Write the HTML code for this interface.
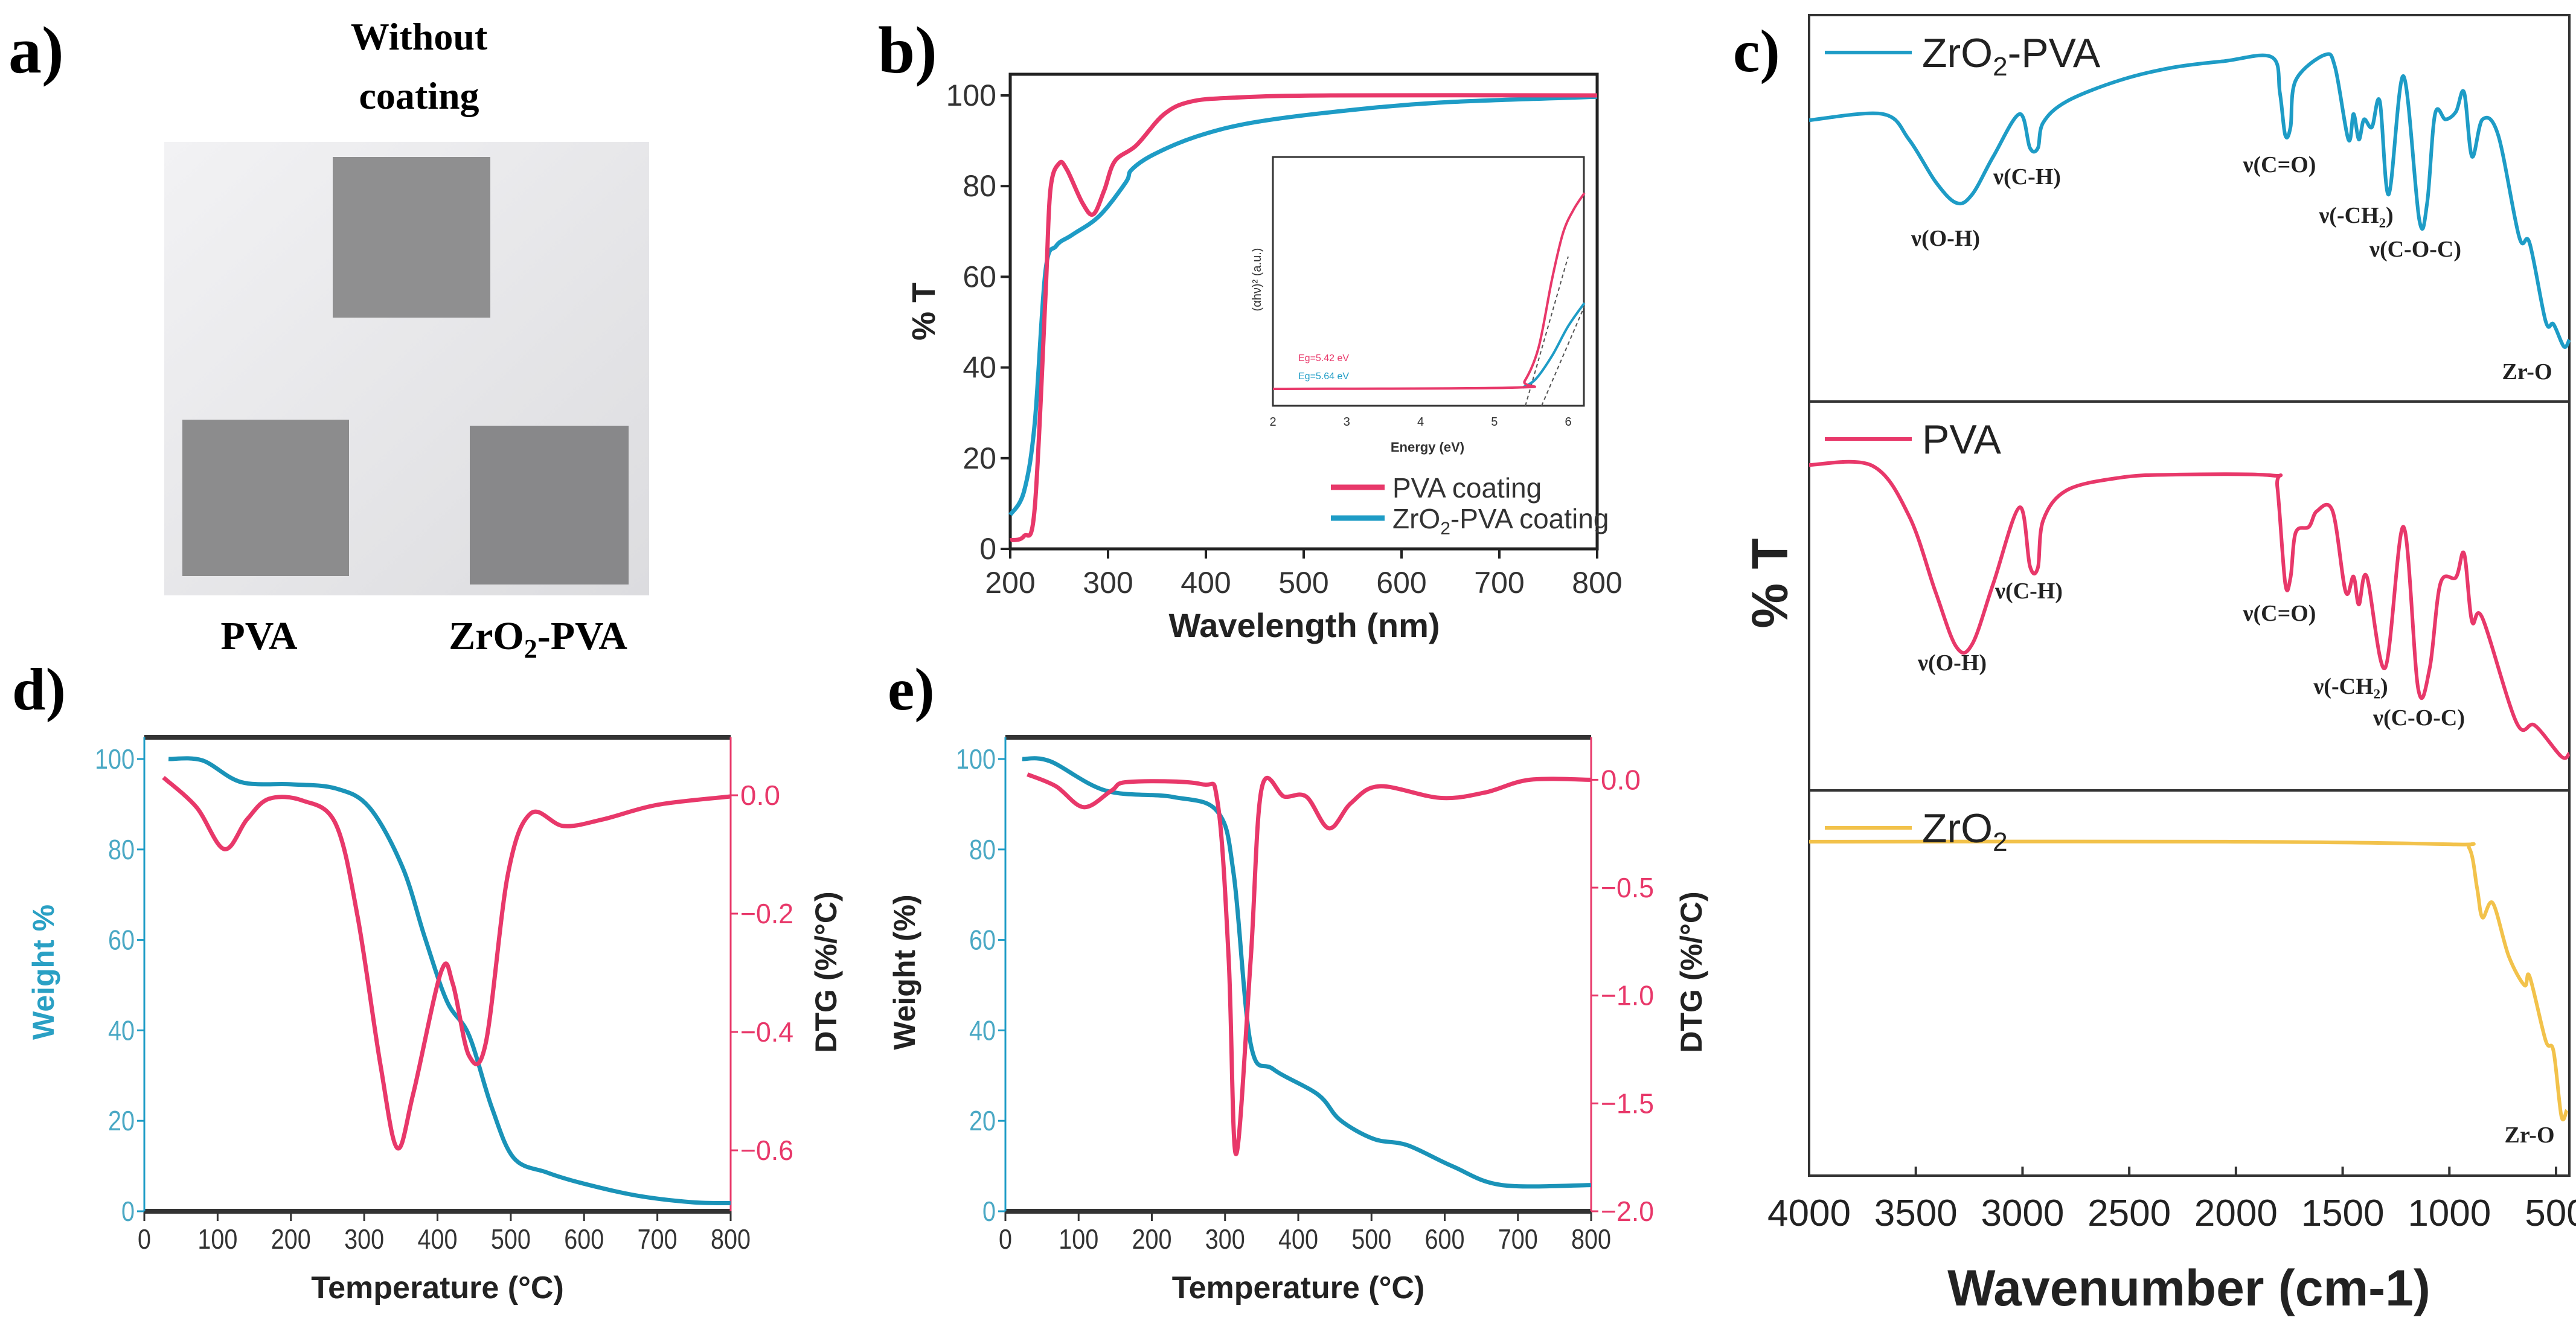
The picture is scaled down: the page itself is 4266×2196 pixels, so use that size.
<!DOCTYPE html>
<html><head><meta charset="utf-8">
<style>
html,body{margin:0;padding:0;background:#fff;}
svg{display:block;}
text{font-family:"Liberation Sans",sans-serif;}
.serif{font-family:"Liberation Serif",serif;font-weight:bold;}
</style></head>
<body>
<svg id="fig" width="4266" height="2196" viewBox="0 0 4266 2196" xmlns="http://www.w3.org/2000/svg">
<rect x="0" y="0" width="4266" height="2196" fill="#fff"/>
<g>
<text class="serif" x="14" y="120" font-size="110">a)</text>
<text class="serif" x="694" y="82" font-size="64" text-anchor="middle">Without</text>
<text class="serif" x="694" y="180" font-size="64" text-anchor="middle">coating</text>
<defs><linearGradient id="bg" x1="0" y1="0" x2="1" y2="1"><stop offset="0" stop-color="#f2f2f4"/><stop offset="1" stop-color="#dcdcdf"/></linearGradient></defs>
<rect x="272" y="235" width="803" height="751" fill="url(#bg)"/>
<rect x="551" y="260" width="261" height="266" fill="#8f8f90"/>
<rect x="302" y="695" width="276" height="259" fill="#8c8c8d"/>
<rect x="778" y="705" width="263" height="263" fill="#88888a"/>
<text class="serif" x="429" y="1075" font-size="66" text-anchor="middle">PVA</text>
<text class="serif" x="891" y="1075" font-size="66" text-anchor="middle">ZrO<tspan font-size="44" dy="14">2</tspan><tspan dy="-14">-PVA</tspan></text>
</g>
<g id="pb"></g>
<g id="pc"></g>
<g id="pd"></g>
<g id="pe"></g>
</svg>
<script>
const bPvaX=[200,214,225,236,241,250,258,274,285,296,307,329,357,384,428,528,800];
const bPvaY=[1.9,2.8,8.9,55.6,79,85,83.6,76.2,73.8,79,85.5,89,95.8,98.6,99.5,100,100];
const bZrX=[200,214,225,236,247,263,291,318,324,346,390,445,528,638,800];
const bZrY=[7.5,12.6,27.6,61.2,66.8,69.2,73.4,80.8,83.6,86.9,90.9,93.9,96.3,98.4,99.7];
const bTicksX=[200,300,400,500,600,700,800];
const bTicksY=[0,20,40,60,80,100];
const insPvaE=[2,5.27,5.41,5.6,5.78,5.93,6.07,6.22];
const insPvaV=[0.068,0.073,0.099,0.235,0.507,0.694,0.787,0.855];
const insZrE=[5.38,5.56,5.78,6.0,6.22];
const insZrV=[0.073,0.107,0.2,0.32,0.413];
const insTicks=[2,3,4,5,6];
const cZpX=[4000,3655,3532,3408,3310,3236,3137,3014,2965,2928,2903,2792,2546,2299,2053,1831,1794,1769,1744,1720,1584,1535,1473,1449,1424,1400,1363,1326,1284,1215,1141,1104,1067,1018,969,931,894,845,771,673,624,549,512,463,438];
const cZpY=[72.8,74.4,67.8,56.9,51.4,53.6,63.4,74.4,65.6,65.6,72.2,77.7,83.1,86.4,88.1,89.1,79.8,68.9,71.1,83.1,89.7,86.4,67.8,74.4,67.8,73,71,77.7,53.6,84.2,47,51.4,74.4,73,75,80,63.4,73,68.9,42.6,41,20.8,20,14.2,16];
const cPvX=[4000,3704,3532,3408,3310,3236,3137,3014,2965,2928,2903,2792,2546,2299,1831,1806,1769,1744,1720,1658,1621,1547,1486,1449,1424,1387,1301,1215,1146,1092,1042,969,931,894,845,685,599,475,438];
const cPvY=[83.7,83.5,70.6,51.1,36.9,37.6,53.2,72.8,57.6,57.3,69.5,77.2,80.4,81.2,81,78,53.2,54.8,66.3,67.8,71.8,71.8,51.1,55,47.8,55,31.5,67.8,26.1,31.5,53.2,54.8,60.9,43.5,44.3,17.4,16.7,8.7,9.5];
const cZrX=[4000,2050,993,907,870,845,796,722,648,624,549,512,475,450];
const cZrY=[86.7,86.7,86,85,74.6,67,70.7,57,49.4,51.7,35.1,32.3,15.4,17];
const cTicks=[4000,3500,3000,2500,2000,1500,1000,500];
const dT=[33,79,132,200,261,307,352,383,413,443,474,504,549,595,671,747,800];
const dW=[100,99.7,94.9,94.4,93.5,89.3,76.2,60.4,46.4,38.9,23,11.8,8.6,6.3,3.5,2,1.8];
const dTd=[26,71,109,140,170,216,261,291,322,345,367,405,421,443,466,496,527,572,625,701,800];
const dDtg=[0.03,-0.02,-0.091,-0.041,-0.006,-0.009,-0.048,-0.205,-0.454,-0.596,-0.504,-0.298,-0.319,-0.44,-0.418,-0.134,-0.031,-0.052,-0.041,-0.016,-0.002];
const dDtgTicks=[0,-0.2,-0.4,-0.6];
const eT=[23,61,137,229,290,312,335,366,427,457,503,549,610,678,800];
const eW=[100,99.5,93,91.6,88.3,74.3,37,31.4,25.8,20.2,16,14.6,10,5.8,5.8];
const eTd=[30,69,107,145,168,267,290,305,315,335,350,381,411,442,472,511,594,655,716,800];
const eDtg=[0.025,-0.03,-0.127,-0.05,-0.01,-0.02,-0.108,-0.833,-1.735,-0.833,-0.04,-0.078,-0.078,-0.225,-0.108,-0.03,-0.084,-0.059,0,0];
const eDtgTicks=[0,-0.5,-1,-1.5,-2];
const tTicks=[0,100,200,300,400,500,600,700,800];
const wTicks=[0,20,40,60,80,100];

const NS="http://www.w3.org/2000/svg";
const PINK="#e8386a", BLUE="#1e9cc6", GOLD="#f2c24b";
function mk(parent,tag,attrs,txt){const e=document.createElementNS(NS,tag);for(const k in attrs)e.setAttribute(k,attrs[k]);if(txt!==undefined)e.textContent=txt;parent.appendChild(e);return e;}
function lin(d0,d1,p0,p1){return v=>p0+(v-d0)/(d1-d0)*(p1-p0);}
function smoothPath(xs,ys){
  const p=xs.map((x,i)=>[x,ys[i]]);let d="M"+p[0][0].toFixed(1)+","+p[0][1].toFixed(1);
  for(let i=0;i<p.length-1;i++){const a=p[i-1]||p[i],b=p[i],c=p[i+1],e=p[i+2]||c;
    const c1=[b[0]+(c[0]-a[0])/6,b[1]+(c[1]-a[1])/6],c2=[c[0]-(e[0]-b[0])/6,c[1]-(e[1]-b[1])/6];
    d+="C"+c1[0].toFixed(1)+","+c1[1].toFixed(1)+" "+c2[0].toFixed(1)+","+c2[1].toFixed(1)+" "+c[0].toFixed(1)+","+c[1].toFixed(1);}
  return d;}

(function(){
const g=document.getElementById('pb');
const X=lin(200,800,1673,2645), Y=lin(0,100,909,158);
let t=mk(g,'text',{class:'serif',x:1454,y:120,'font-size':110},'b)');


let r=mk(g,'rect',{x:1673,y:123,width:972,height:786,fill:'none',stroke:'#222','stroke-width':5});


bTicksX.forEach(v=>{const l=mk(g,'line',{x1:X(v),x2:X(v),y1:909,y2:925,stroke:'#222','stroke-width':4});
 
 
 const tx=mk(g,'text',{x:X(v),y:982,'font-size':50,'text-anchor':'middle',fill:'#333'},String(v));
 
 });
bTicksY.forEach(v=>{const l=mk(g,'line',{x1:1657,x2:1673,y1:Y(v),y2:Y(v),stroke:'#222','stroke-width':4});
 
 
 const tx=mk(g,'text',{x:1650,y:Y(v)+17,'font-size':50,'text-anchor':'end',fill:'#333'},String(v));
 
 });
t=mk(g,'text',{x:2160,y:1055,'font-size':56,'font-weight':'bold','text-anchor':'middle',fill:'#222'},'Wavelength (nm)');


t=mk(g,'text',{x:0,y:0,'font-size':54,'font-weight':'bold','text-anchor':'middle',fill:'#222',transform:'translate(1548,516) rotate(-90)'},'% T');


let p=mk(g,'path',{d:smoothPath(bZrX.map(X),bZrY.map(Y)),fill:'none',stroke:BLUE,'stroke-width':7});


p=mk(g,'path',{d:smoothPath(bPvaX.map(X),bPvaY.map(Y)),fill:'none',stroke:PINK,'stroke-width':7});


const IX=lin(2,6,2108,2597), IY=lin(0,1,672,260);
r=mk(g,'rect',{x:2108,y:260,width:515,height:412,fill:'#fff',stroke:'#333','stroke-width':3});


insTicks.forEach(v=>{const tx=mk(g,'text',{x:IX(v),y:705,'font-size':20,'text-anchor':'middle',fill:'#333'},String(v));
 
 });
t=mk(g,'text',{x:2364,y:748,'font-size':22,'font-weight':'bold','text-anchor':'middle',fill:'#333'},'Energy (eV)');


t=mk(g,'text',{x:0,y:0,'font-size':20,'text-anchor':'middle',fill:'#333',transform:'translate(2088,463) rotate(-90)'},'(αhν)² (a.u.)');


t=mk(g,'text',{x:2150,y:598,'font-size':16,fill:PINK},'Eg=5.42 eV');


t=mk(g,'text',{x:2150,y:628,'font-size':16,fill:BLUE},'Eg=5.64 eV');


let l=mk(g,'line',{x1:IX(5.42),y1:IY(0),x2:IX(6.0),y2:IY(0.6),stroke:'#555','stroke-width':2,'stroke-dasharray':'6,5'});


l=mk(g,'line',{x1:IX(5.64),y1:IY(0),x2:IX(6.22),y2:IY(0.4),stroke:'#555','stroke-width':2,'stroke-dasharray':'6,5'});


p=mk(g,'path',{d:smoothPath(insZrE.map(IX),insZrV.map(IY)),fill:'none',stroke:BLUE,'stroke-width':4});


p=mk(g,'path',{d:smoothPath(insPvaE.map(IX),insPvaV.map(IY)),fill:'none',stroke:PINK,'stroke-width':4});


l=mk(g,'line',{x1:2204,x2:2293,y1:807,y2:807,stroke:PINK,'stroke-width':9});


t=mk(g,'text',{x:2306,y:824,'font-size':46,fill:'#333'},'PVA coating');


l=mk(g,'line',{x1:2204,x2:2293,y1:858,y2:858,stroke:BLUE,'stroke-width':9});


t=mk(g,'text',{x:2306,y:875,'font-size':46,fill:'#333'},'ZrO');


mk(t,'tspan',{'font-size':30,dy:10},'2');
mk(t,'tspan',{dy:-10},'-PVA coating');
})();

(function(){
const g=document.getElementById('pc');
const X=lin(4000,500,2996,4233);
const panels=[{top:25,bot:665,xs:cZpX,ys:cZpY,c:BLUE,name:'ZrO2-PVA',n:'zro2-pva'},
 {top:665,bot:1309,xs:cPvX,ys:cPvY,c:PINK,name:'PVA',n:'pva'},
 {top:1309,bot:1947,xs:cZrX,ys:cZrY,c:GOLD,name:'ZrO2',n:'zro2'}];
let t=mk(g,'text',{class:'serif',x:2870,y:118,'font-size':100},'c)');


let r=mk(g,'rect',{x:2996,y:25,width:1259,height:1922,fill:'none',stroke:'#333','stroke-width':4});


panels.forEach((P,i)=>{
 const Y=lin(0,100,P.bot,P.top);
 if(i>0){const l=mk(g,'line',{x1:2996,x2:4255,y1:P.top,y2:P.top,stroke:'#333','stroke-width':4});
  
  }
 const p=mk(g,'path',{d:smoothPath(P.xs.map(X),P.ys.map(Y)),fill:'none',stroke:P.c,'stroke-width':6});
 
 
 const ly=P.top+62;
 const l=mk(g,'line',{x1:3022,x2:3166,y1:ly,y2:ly,stroke:P.c,'stroke-width':6});
 
 
 const tx=mk(g,'text',{x:3183,y:ly+24,'font-size':68,fill:'#222'},P.name==='PVA'?'PVA':'ZrO');
 
 
 if(P.name!=='PVA'){mk(tx,'tspan',{'font-size':44,dy:14},'2');if(P.name==='ZrO2-PVA')mk(tx,'tspan',{dy:-14},'-PVA');}
});
const ann=[['ν(O-H)',3222,407],['ν(C-H)',3357,305],['ν(C=O)',3775,285],['ν(-CH₂)',3902,369],['ν(C-O-C)',4000,425],['Zr-O',4185,628],
 ['ν(C-H)',3360,991],['ν(O-H)',3233,1110],['ν(C=O)',3775,1028],['ν(-CH₂)',3893,1149],['ν(C-O-C)',4006,1201],['Zr-O',4189,1892]];
ann.forEach(a=>{const tx=mk(g,'text',{class:'serif',x:a[1],y:a[2],'font-size':38,'text-anchor':'middle',fill:'#222'},a[0]);
 
 });
cTicks.forEach(v=>{const l=mk(g,'line',{x1:X(v),x2:X(v),y1:1947,y2:1932,stroke:'#333','stroke-width':4});
 
 
 const tx=mk(g,'text',{x:X(v),y:2030,'font-size':62,'text-anchor':'middle',fill:'#222'},String(v));
 
 });
t=mk(g,'text',{x:3625,y:2162,'font-size':84,'font-weight':'bold','text-anchor':'middle',fill:'#222'},'Wavenumber (cm-1)');


t=mk(g,'text',{x:0,y:0,'font-size':84,'font-weight':'bold','text-anchor':'middle',fill:'#222',transform:'translate(2960,966) rotate(-90)'},'% T');


})();

function tga(id,lab,labX,x0,x1,dtgMin,dtgMax,wT,wV,dT,dV,dTicks,wTitle,dtgTitleX,wTitleColor){
const g=document.getElementById(id);
const X=lin(0,800,x0,x1), Y=lin(0,100,2006,1257), YD=lin(dtgMin,dtgMax,2006,1221);
let t=mk(g,'text',{class:'serif',x:labX,y:1175,'font-size':100},lab+')');


let l=mk(g,'line',{x1:x0,x2:x1,y1:1221,y2:1221,stroke:'#333','stroke-width':8});


l=mk(g,'line',{x1:x0,x2:x1,y1:2006,y2:2006,stroke:'#333','stroke-width':8});


l=mk(g,'line',{x1:x0,x2:x0,y1:1221,y2:2006,stroke:BLUE,'stroke-width':3});


l=mk(g,'line',{x1:x1,x2:x1,y1:1221,y2:2006,stroke:PINK,'stroke-width':3});


tTicks.forEach(v=>{const k=mk(g,'line',{x1:X(v),x2:X(v),y1:2006,y2:2022,stroke:'#333','stroke-width':3});
 
 
 const tx=mk(g,'text',{x:X(v),y:2068,'font-size':46,'text-anchor':'middle',fill:'#333',textLength:String(v).length*22,lengthAdjust:'spacingAndGlyphs'},String(v));
 
 });
wTicks.forEach(v=>{const k=mk(g,'line',{x1:x0-12,x2:x0,y1:Y(v),y2:Y(v),stroke:BLUE,'stroke-width':3});
 
 
 const tx=mk(g,'text',{x:x0-16,y:Y(v)+16,'font-size':46,'text-anchor':'end',fill:'#4aa8c4',textLength:String(v).length*22,lengthAdjust:'spacingAndGlyphs'},String(v));
 
 });
dTicks.forEach(v=>{const k=mk(g,'line',{x1:x1,x2:x1+12,y1:YD(v),y2:YD(v),stroke:PINK,'stroke-width':3});
 
 
 const s=(v<0?'−':'')+Math.abs(v).toFixed(1);
 const tx=mk(g,'text',{x:x1+16,y:YD(v)+16,'font-size':46,fill:PINK,textLength:s.length*22,lengthAdjust:'spacingAndGlyphs'},s);
 
 });
t=mk(g,'text',{x:(x0+x1)/2,y:2150,'font-size':52,'font-weight':'bold','text-anchor':'middle',fill:'#222'},'Temperature (°C)');


t=mk(g,'text',{x:0,y:0,'font-size':50,'font-weight':'bold','text-anchor':'middle',fill:wTitleColor,transform:'translate('+(x0-150)+',1610) rotate(-90)'},wTitle);


t=mk(g,'text',{x:0,y:0,'font-size':50,'font-weight':'bold','text-anchor':'middle',fill:'#222',transform:'translate('+dtgTitleX+',1610) rotate(-90)'},'DTG (%/°C)');


let p=mk(g,'path',{d:smoothPath(wT.map(X),wV.map(Y)),fill:'none',stroke:'#1a93b8','stroke-width':7});


p=mk(g,'path',{d:smoothPath(dT.map(X),dV.map(YD)),fill:'none',stroke:PINK,'stroke-width':7});


}
tga('pd','d',20,239,1210,-0.703,0.098,dT,dW,dTd,dDtg,dDtgTicks,'Weight %',1385,'#2aa0c4');
tga('pe','e',1470,1665,2635,-2.0,0.197,eT,eW,eTd,eDtg,eDtgTicks,'Weight (%)',2818,'#222');
</script>
</body></html>
